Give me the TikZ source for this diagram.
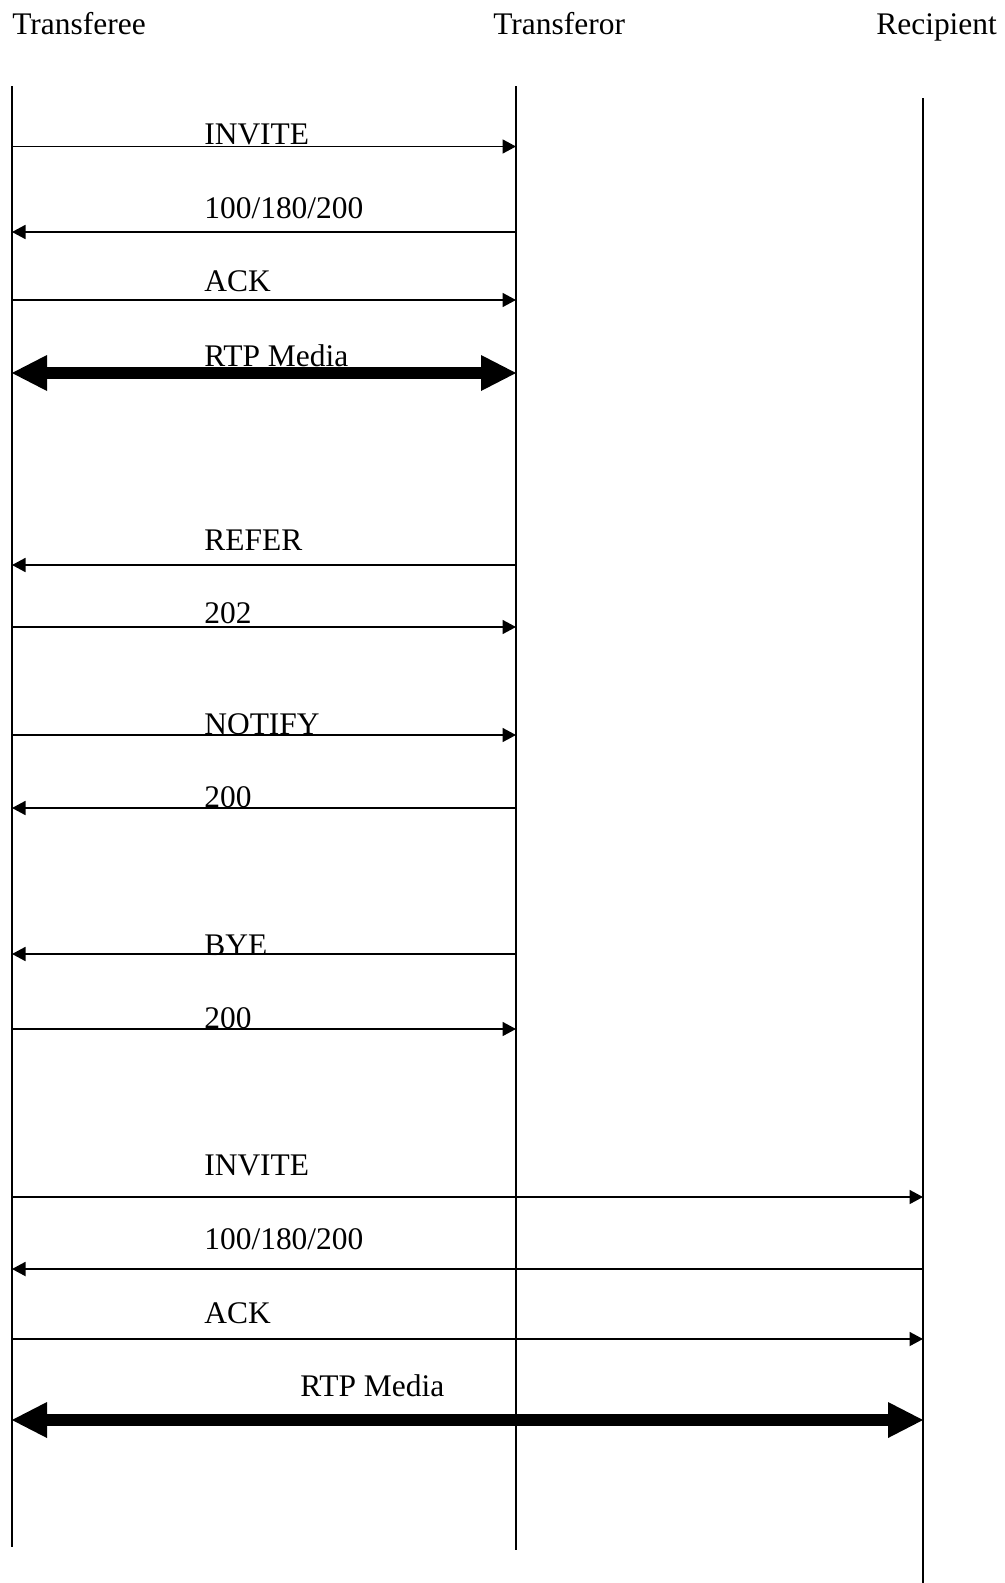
\documentclass[tikz,border=0pt]{standalone}
\usepackage{fontspec}
\setmainfont{Liberation Serif}
\usetikzlibrary{arrows.meta}

\begin{document}
\begin{tikzpicture}[
        every node/.style={font=\fontsize{17.9}{20}\selectfont, inner sep=0pt},
        lifeline/.style={line width=0.035cm},
        msg/.style={line width=0.035cm, -{Triangle[length=0.27cm,width=0.28cm]}},
        media/.style={
            line width=0.24cm,
            {Triangle[length=0.7cm,width=0.72cm,line width=0pt]}-{Triangle[length=0.7cm,width=0.72cm,line width=0pt]}
        },
        lbl/.style={anchor=base west}
    ]
    \useasboundingbox (0,0) rectangle (20.08,-31.66);

    % Participants
    \node[lbl] (ee) at (0.24,-0.69) {Transferee};
    \node[lbl] (or) at (9.86,-0.69) {Transferor};
    \node[lbl] (rc) at (17.52,-0.69) {Recipient};

    % Lifelines
    \coordinate (ee top) at (0.24,-1.72);
    \coordinate (ee bot) at (0.24,-30.94);
    \coordinate (or top) at (10.32,-1.72);
    \coordinate (or bot) at (10.32,-31.0);
    \coordinate (rc top) at (18.46,-1.96);
    \coordinate (rc bot) at (18.46,-31.66);
    \draw[lifeline] (ee top) -- (ee bot);
    \draw[lifeline] (or top) -- (or bot);
    \draw[lifeline] (rc top) -- (rc bot);

    % First call
    \coordinate (r1) at (0,-2.93);
    \coordinate (r2) at (0,-4.64);
    \coordinate (r3) at (0,-6.00);
    \coordinate (r4) at (0,-7.46);
    \draw[msg] (ee top |- r1) -- (or top |- r1);
    \node[lbl] (invite1) at (4.08,-2.88) {INVITE};
    \draw[msg] (or top |- r2) -- (ee top |- r2);
    \node[lbl] (resp1) at (4.08,-4.37) {100/180/200};
    \draw[msg] (ee top |- r3) -- (or top |- r3);
    \node[lbl] (ack1) at (4.08,-5.82) {ACK};
    \draw[media] (ee top |- r4) -- (or top |- r4);
    \node[lbl] (rtp1) at (4.08,-7.32) {RTP Media};

    % Transfer
    \coordinate (r5) at (0,-11.30);
    \coordinate (r6) at (0,-12.54);
    \draw[msg] (or top |- r5) -- (ee top |- r5);
    \node[lbl] (refer) at (4.08,-11.00) {REFER};
    \draw[msg] (ee top |- r6) -- (or top |- r6);
    \node[lbl] (accepted) at (4.08,-12.46) {202};

    % Notification
    \coordinate (r7) at (0,-14.70);
    \coordinate (r8) at (0,-16.16);
    \draw[msg] (ee top |- r7) -- (or top |- r7);
    \node[lbl] (notify) at (4.08,-14.68) {NOTIFY};
    \draw[msg] (or top |- r8) -- (ee top |- r8);
    \node[lbl] (ok1) at (4.08,-16.14) {200};

    % Teardown
    \coordinate (r9) at (0,-19.08);
    \coordinate (r10) at (0,-20.58);
    \draw[msg] (or top |- r9) -- (ee top |- r9);
    \node[lbl] (bye) at (4.08,-19.10) {BYE};
    \draw[msg] (ee top |- r10) -- (or top |- r10);
    \node[lbl] (ok2) at (4.08,-20.56) {200};

    % New call to recipient
    \coordinate (r11) at (0,-23.94);
    \coordinate (r12) at (0,-25.38);
    \coordinate (r13) at (0,-26.78);
    \coordinate (r14) at (0,-28.40);
    \draw[msg] (ee top |- r11) -- (rc top |- r11);
    \node[lbl] (invite2) at (4.08,-23.50) {INVITE};
    \draw[msg] (rc top |- r12) -- (ee top |- r12);
    \node[lbl] (resp2) at (4.08,-24.98) {100/180/200};
    \draw[msg] (ee top |- r13) -- (rc top |- r13);
    \node[lbl] (ack2) at (4.08,-26.46) {ACK};
    \draw[media] (ee top |- r14) -- (rc top |- r14);
    \node[lbl] (rtp2) at (6.00,-27.92) {RTP Media};

\end{tikzpicture}
\end{document}
